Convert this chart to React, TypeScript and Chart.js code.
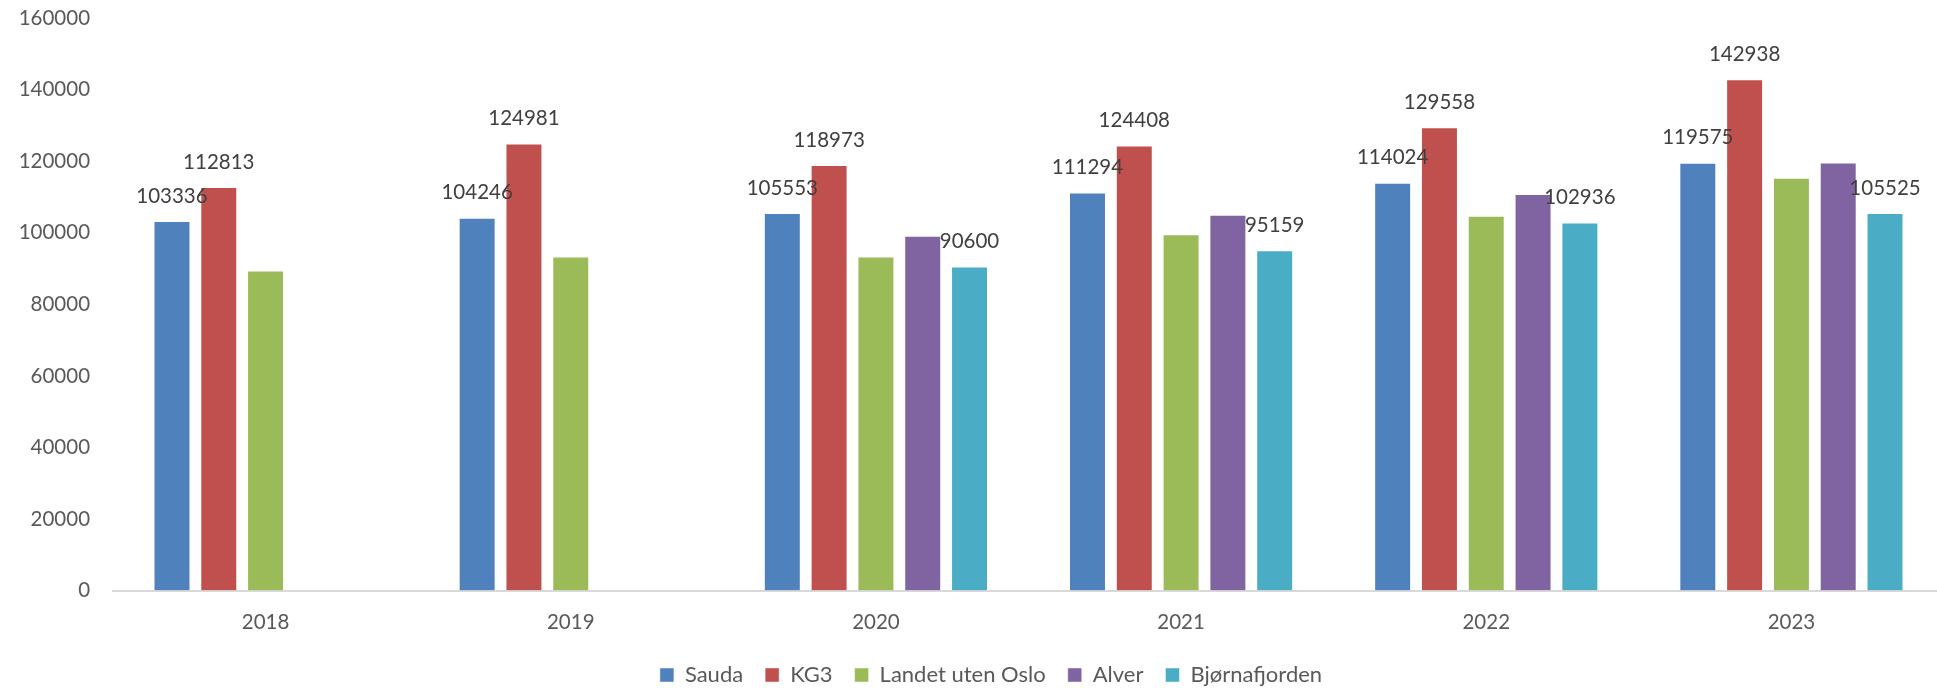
import React, { useEffect, useRef } from "react";
import { Chart, registerables } from "chart.js";

Chart.register(...registerables);

const years = ["2018", "2019", "2020", "2021", "2022", "2023"];
const sauda = [103336, 104246, 105553, 111294, 114024, 119575];
const kg3 = [112813, 124981, 118973, 124408, 129558, 142938];
const landetUtenOslo = [89500, 93400, 93400, 99600, 104800, 115400];
const alver = [null, null, 99200, 105100, 110900, 119700];
const bjornafjorden = [null, null, 90600, 95159, 102936, 105525];
const yTicks = { min: 0, max: 160000, step: 20000 };

const FONT = "Lato";

const labelPlugin = {
  id: "barValueLabels",
  afterDatasetsDraw(chart: any) {
    const ctx = chart.ctx;
    ctx.save();
    ctx.font = `20.5px ${FONT}`;
    ctx.fillStyle = "#404040";
    ctx.textAlign = "center";
    ctx.textBaseline = "middle";
    chart.data.datasets.forEach((ds: any, di: number) => {
      if (!ds.showValues) return;
      const meta = chart.getDatasetMeta(di);
      meta.data.forEach((el: any, i: number) => {
        const v = ds.data[i];
        if (v === null || v === undefined) return;
        ctx.fillText(String(v), el.x, el.y - 25);
      });
    });
    ctx.restore();
  },
};

export default function App() {
  const ref = useRef<HTMLCanvasElement | null>(null);
  useEffect(() => {
    if (!ref.current) return;
    const mk = (label: string, data: any[], color: string, showValues: boolean) => ({
      label,
      data,
      backgroundColor: color,
      borderColor: "rgba(255,255,255,0.45)",
      borderWidth: 1,
      showValues,
      categoryPercentage: 0.7668,
      barPercentage: 0.79,
    });
    const chart = new Chart(ref.current, {
      type: "bar",
      data: {
        labels: years,
        datasets: [
          mk("Sauda", sauda, "#4F81BD", true),
          mk("KG3", kg3, "#C0504D", true),
          mk("Landet uten Oslo", landetUtenOslo, "#9BBB59", false),
          mk("Alver", alver, "#8064A2", false),
          mk("Bjørnafjorden", bjornafjorden, "#4BACC6", true),
        ] as any,
      },
      options: {
        responsive: false,
        animation: false,
        devicePixelRatio: 1,
        layout: { padding: { left: 38, right: 0, top: 18.3, bottom: 0 } },
        plugins: {
          legend: {
            position: "bottom",
            labels: {
              boxWidth: 14,
              boxHeight: 14,
              padding: 22,
              color: "#595959",
              font: { family: FONT, size: 22 },
            },
          },
          tooltip: { enabled: false },
        },
        scales: {
          x: {
            grid: { display: true, drawOnChartArea: false, drawTicks: false },
            border: { display: true, color: "#D9D9D9", width: 2 },
            ticks: {
              color: "#595959",
              font: { family: FONT, size: 20.5 },
              padding: 20,
              maxRotation: 0,
            },
            afterFit: (s: any) => {
              s.height = 51.5;
              s.paddingLeft = 0;
              s.paddingRight = 0;
            },
          },
          y: {
            min: yTicks.min,
            max: yTicks.max,
            grid: { display: false, drawTicks: false },
            border: { display: false },
            ticks: {
              stepSize: yTicks.step,
              color: "#595959",
              font: { family: FONT, size: 20.5 },
              mirror: true,
              crossAlign: "far",
              padding: -94.3,
              callback: (v: any) => String(v),
            },
            afterFit: (s: any) => {
              s.width = 75;
              s.paddingTop = 0;
              s.paddingBottom = 0;
            },
          },
        },
      },
      plugins: [labelPlugin],
    });
    return () => chart.destroy();
  }, []);
  return (
    <div
      style={{
        position: "fixed",
        left: 0,
        top: 0,
        width: 1937,
        height: 688,
        overflow: "hidden",
        background: "#fff",
      }}
    >
      <canvas ref={ref} width={1944} height={696} style={{ display: "block" }} />
    </div>
  );
}
